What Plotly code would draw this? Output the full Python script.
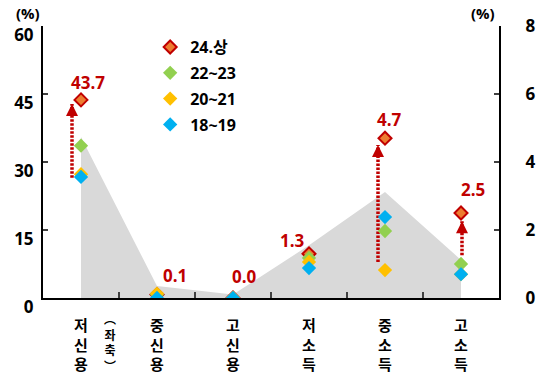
import plotly.graph_objects as go

# ---- data -------------------------------------------------------------
CATEGORIES = ["저신용", "중신용", "고신용", "저소득", "중소득", "고소득"]
# 저신용 is read on the left axis (%), the others on the right axis (%)
SERIES_NAMES = ["24.상", "22~23", "20~21", "18~19"]
H1_24 = [43.7, 0.1, 0.0, 1.3, 4.7, 2.5]
Y22_23 = [33.6, 0.1, 0.0, 1.18, 1.97, 1.0]
Y20_21 = [27.3, 0.13, 0.0, 1.06, 0.82, 0.7]
Y18_19 = [26.7, 0.0, 0.0, 0.88, 2.38, 0.7]
BAND = [35.5, 0.35, 0.1, 1.55, 3.12, 1.12]

ARROW_CATS = ["저신용", "중소득", "고소득"]
ARROW_FROM = [26.5, 1.06, 1.26]
ARROW_TO = [42.8, 4.5, 2.26]

LEFT_TICKS = [0, 15, 30, 45, 60]
RIGHT_TICKS = [0, 2, 4, 6, 8]
LEFT_AXIS_CATS = ["저신용"]

# ---- style ------------------------------------------------------------
W, H = 538, 375
M = dict(l=43, r=39, t=26, b=77)
PX_PER_CAT = (W - M["l"] - M["r"]) / len(CATEGORIES)
FONT = "Open Sans, Noto Sans CJK KR"
RED = "#C00000"
SERIES_STYLE = [
    dict(color="#ED7D31", line=dict(color=RED, width=2), size=10),
    dict(color="#92D050", line=dict(width=0), size=11),
    dict(color="#FFC000", line=dict(width=0), size=11),
    dict(color="#00B0F0", line=dict(width=0), size=11),
]
ARROW_DX = [-9, -7, 1]  # px, horizontal shift of each arrow
LABEL_SHIFT = [(7, -17), (18, -19), (11, -22), (-17, -13), (4, -19), (12, -24)]
RATIO = LEFT_TICKS[-1] / RIGHT_TICKS[-1]

xs = list(range(len(CATEGORIES)))
left_idx = [i for i, c in enumerate(CATEGORIES) if c in LEFT_AXIS_CATS]
right_idx = [i for i, c in enumerate(CATEGORIES) if c not in LEFT_AXIS_CATS]

fig = go.Figure()

# grey band, expressed in left-axis units so it sits beneath every marker
band_left = [v if i in left_idx else v * RATIO for i, v in enumerate(BAND)]
fig.add_trace(go.Scatter(
    x=[xs[0]] + xs + [xs[-1]], y=[0] + band_left + [0],
    mode="lines", fill="toself", fillcolor="#D9D9D9",
    line=dict(width=0), showlegend=False, hoverinfo="skip", yaxis="y"))


def add_arrow_lines(indices, yaxis):
    for k, cat in enumerate(ARROW_CATS):
        i = CATEGORIES.index(cat)
        if i not in indices:
            continue
        xa = xs[i] + ARROW_DX[k] / PX_PER_CAT
        fig.add_trace(go.Scatter(
            x=[xa, xa], y=[ARROW_FROM[k], ARROW_TO[k]], mode="lines",
            line=dict(color=RED, width=3.5, dash="2.5px,1.5px"),
            showlegend=False, hoverinfo="skip", yaxis=yaxis))


def add_series(indices, yaxis, legend):
    for name, vals, st in zip(SERIES_NAMES, [H1_24, Y22_23, Y20_21, Y18_19], SERIES_STYLE):
        fig.add_trace(go.Scatter(
            x=[xs[i] for i in indices], y=[vals[i] for i in indices],
            mode="markers", name=name, legendgroup=name, showlegend=legend,
            marker=dict(symbol="diamond", **st), yaxis=yaxis))


add_arrow_lines(left_idx, "y")
add_series(left_idx, "y", True)
add_arrow_lines(right_idx, "y2")
add_series(right_idx, "y2", False)

annotations = []
# arrow heads
for k, cat in enumerate(ARROW_CATS):
    i = CATEGORIES.index(cat)
    annotations.append(dict(
        x=xs[i] + ARROW_DX[k] / PX_PER_CAT, y=ARROW_TO[k], xref="x",
        yref="y" if i in left_idx else "y2", text="", showarrow=True,
        ax=0, ay=10, arrowhead=2, arrowsize=0.75, arrowwidth=3.2,
        arrowcolor=RED, standoff=0))
# value labels for the latest period
for i, v in enumerate(H1_24):
    dx, dy = LABEL_SHIFT[i]
    annotations.append(dict(
        x=xs[i], y=v, xref="x", yref="y" if i in left_idx else "y2",
        text=f"{v:.1f}", showarrow=False, xshift=dx, yshift=-dy,
        font=dict(family=FONT, size=17, color=RED, weight="bold")))
# unit labels
for xp in (-0.033, 0.965):
    annotations.append(dict(x=xp, y=1.0, xref="paper", yref="paper", text="(%)",
                            showarrow=False, xanchor="center", yanchor="middle", yshift=13,
                            font=dict(family=FONT, size=15, color="black", weight="bold")))
# left-axis note next to the first category
annotations.append(dict(x=xs[0] + 0.38, y=0, xref="x", yref="paper",
                        text="︵<br>좌<br>축<br>︶", showarrow=False,
                        yanchor="top", yshift=-11,
                        font=dict(family=FONT, size=12, color="black", weight="bold")))

tick_font = dict(family=FONT, size=17, color="black", weight="bold")
fig.update_layout(
    width=W, height=H, margin=M,
    paper_bgcolor="white", plot_bgcolor="white",
    font=dict(family=FONT, color="black"),
    showlegend=True,
    legend=dict(x=0.235, y=0.985, xanchor="left", yanchor="top",
                bgcolor="rgba(0,0,0,0)", traceorder="grouped", tracegroupgap=2,
                font=dict(family=FONT, size=16, color="black", weight="bold")),
    xaxis=dict(range=[-0.5, len(CATEGORIES) - 0.5], tickmode="array",
               tickvals=xs, ticktext=["<br>".join(c) for c in CATEGORIES],
               ticks="", showgrid=False, zeroline=False, automargin=False,
               showline=True, linecolor="black", linewidth=2,
               minor=dict(tickmode="array", tickvals=[x + 0.5 for x in xs[:-1]],
                          ticks="inside", ticklen=6, tickwidth=1.5, tickcolor="#404040"),
               ticklabelstandoff=13,
               tickfont=dict(family=FONT, size=15, color="black", weight="bold")),
    yaxis=dict(range=[LEFT_TICKS[0], LEFT_TICKS[-1]], tickmode="array", tickvals=LEFT_TICKS,
               ticks="inside", ticklen=5, tickwidth=1.5, tickcolor="#404040",
               showgrid=False, zeroline=False, showline=True, linecolor="black", linewidth=2,
               automargin=False,
               ticklabelshift=9, ticklabelstandoff=4, tickfont=tick_font),
    yaxis2=dict(range=[RIGHT_TICKS[0], RIGHT_TICKS[-1]], tickmode="array", tickvals=RIGHT_TICKS,
                overlaying="y", side="right",
                ticks="inside", ticklen=5, tickwidth=1.5, tickcolor="#404040",
                showgrid=False, zeroline=False, showline=True, linecolor="black", linewidth=2,
                automargin=False,
                ticklabelstandoff=21, tickfont=tick_font),
    annotations=annotations,
)

fig.write_html("out.html")
